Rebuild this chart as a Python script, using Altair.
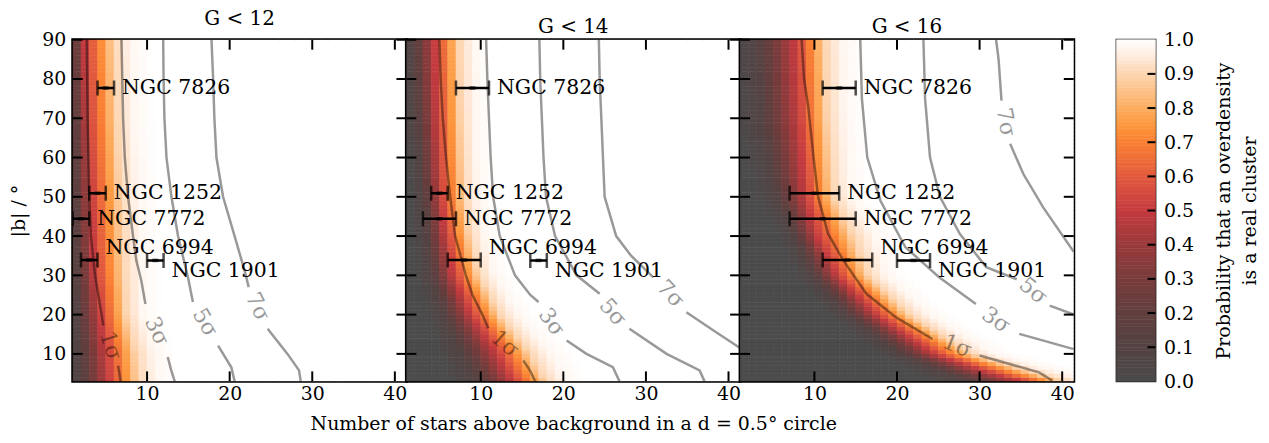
import altair as alt
import numpy as np
import pandas as pd

FONT = "DejaVu Serif"
PANELS = ["G < 12", "G < 14", "G < 16"]
X_TICKS = [10, 20, 30, 40]
Y_TICKS = [10, 20, 30, 40, 50, 60, 70, 80, 90]
CB_TICKS = [0.0, 0.1, 0.2, 0.3, 0.4, 0.5, 0.6, 0.7, 0.8, 0.9, 1.0]
CB_INNER = [0.1, 0.2, 0.3, 0.4, 0.5, 0.6, 0.7, 0.8, 0.9]
XTITLE = "Number of stars above background in a d = 0.5° circle"
YTITLE = "|b| / °"
CBTITLE = ["Probability that an overdensity", "is a real cluster"]
X_MIN, X_MAX = 1, 41.4
B_MIN, B_MAX = 3, 90

# probability field: x where P = 0.1, 0.5, 0.9 at each |b|
B_NODES = [3, 5, 10, 20, 30, 40, 50, 70, 90]
P10 = {
    "G < 12": [1.9, 1.9, 1.8, 1.5, 1.3, 1.2, 1.15, 1.0, 0.9],
    "G < 14": [9.6, 9.0, 7.8, 5.6, 4.0, 3.4, 3.0, 2.2, 1.8],
    "G < 16": [29.0, 26.0, 20.5, 14.0, 9.8, 7.6, 5.5, 3.6, 3.1],
}
P50 = {
    "G < 12": [5.3, 5.2, 5.0, 4.3, 3.7, 3.4, 3.2, 2.8, 2.5],
    "G < 14": [13.9, 13.3, 12.0, 8.8, 6.7, 5.8, 5.1, 4.7, 4.4],
    "G < 16": [35.5, 31.5, 24.5, 17.5, 12.8, 10.3, 8.9, 8.1, 7.7],
}
P90 = {
    "G < 12": [9.0, 8.9, 8.7, 7.5, 7.2, 7.0, 6.8, 6.3, 6.0],
    "G < 14": [18.0, 17.3, 16.0, 12.3, 9.8, 8.7, 8.0, 7.6, 7.4],
    "G < 16": [40.5, 37.0, 29.0, 21.5, 16.5, 14.7, 12.3, 11.6, 11.3],
}

# contour lines: (upper segment, lower segment, label (x, b, angle))
CONT_12 = {
    "1σ": ([(2.7, 90), (2.75, 80), (2.8, 70), (2.9, 60), (3.0, 50), (3.2, 40), (3.7, 30), (4.1, 25), (4.5, 20), (4.7, 17.2)],
           [(6.5, 7.0), (6.65, 5), (6.8, 3)], (5.6, 12.1, 72)),
    "3σ": ([(6.9, 90), (7.0, 80), (7.1, 70), (7.3, 60), (7.7, 50), (8.3, 40), (8.7, 33.8), (9.3, 28.7), (9.8, 22.7)],
           [(12.5, 9.2), (12.9, 6.0), (13.35, 3)], (11.2, 15.8, 65)),
    "5σ": ([(11.95, 90), (12.0, 80), (12.1, 70), (12.35, 60), (12.95, 50), (13.75, 40), (14.95, 29.5), (15.55, 23.2)],
           [(18.6, 12.1), (20.2, 6.6), (20.6, 3)], (17.05, 18.0, 60)),
    "7σ": ([(17.8, 90), (18.0, 80), (18.15, 70), (18.4, 60), (19.2, 50), (20.6, 40), (21.9, 30.5), (22.3, 27.0)],
           [(24.6, 16.4), (27.0, 10.0), (28.4, 5.8), (28.6, 3)], (23.4, 22.0, 64)),
}
CONT_14 = {
    "1σ": ([(5.0, 90), (5.15, 80), (5.4, 70), (5.8, 60), (6.3, 50), (6.9, 40), (8.2, 30), (9.0, 25), (10.2, 20), (10.9, 16.5)],
           [(15.15, 8.3), (15.9, 6.0), (16.6, 3)], (12.95, 12.6, 41)),
    "3σ": ([(10.65, 90), (10.8, 80), (11.0, 70), (11.2, 60), (11.5, 50), (12.3, 40), (14.15, 30), (16.0, 25), (17.0, 23.2)],
           [(20.4, 13.4), (22.8, 10.0), (26.0, 6.6), (26.8, 3)], (18.6, 18.1, 54)),
    "5σ": ([(17.1, 90), (17.2, 80), (17.4, 70), (17.6, 60), (17.9, 50), (19.0, 40), (21.6, 30), (24.4, 25.3)],
           [(28.0, 16.4), (32.5, 10.0), (36.5, 5.8), (37.1, 3)], (26.0, 20.6, 49)),
    "7σ": ([(24.3, 90), (24.4, 80), (24.6, 70), (24.8, 60), (25.0, 50), (26.4, 40), (28.2, 35), (30.9, 29.5)],
           [(34.9, 20.6), (38.5, 15.5), (41.4, 11.5)], (33.0, 25.3, 47)),
}
CONT_16 = {
    "1σ": ([(8.45, 90), (8.75, 80), (9.25, 73), (9.9, 60), (10.45, 50), (11.65, 40.6), (13.5, 33.8), (16.3, 25.3), (19.9, 19.3), (24.3, 13.8)],
           [(30.0, 9.6), (37.2, 5.3), (38.8, 3.2)], (27.3, 12.0, 22)),
    "3σ": ([(15.55, 90), (15.75, 75), (16.4, 60), (18.0, 49), (21.0, 37.2), (25.1, 29.5), (29.55, 22.7)],
           [(34.8, 15.1), (41.4, 11.2)], (32.0, 18.6, 34)),
    "5σ": ([(23.2, 90), (23.4, 75), (24.0, 60), (25.2, 50), (27.6, 40.6), (30.8, 32.1), (34.5, 29.0)],
           [(38.5, 22.3), (41.4, 20.0)], (36.5, 26.1, 40)),
    "7σ": ([(32.0, 90), (32.3, 85), (32.5, 79), (32.65, 74.5)],
           [(33.7, 63.5), (35.3, 55.8), (37.7, 47.3), (41.4, 36.0)], (33.2, 69.0, 79)),
}
CONTOURS = {"G < 12": CONT_12, "G < 14": CONT_14, "G < 16": CONT_16}

CLUSTERS = ["NGC 7826", "NGC 1252", "NGC 7772", "NGC 6994", "NGC 1901"]
CL_B = [77.7, 50.9, 44.4, 33.9, 33.8]
CL_TEXT_B = [77.7, 50.9, 44.4, 37.0, 31.0]
CL_LO = {"G < 12": [4, 3, 1, 2, 10], "G < 14": [7, 4, 3, 6, 16], "G < 16": [11, 7, 7, 11, 20]}
CL_HI = {"G < 12": [6, 5, 3, 4, 12], "G < 14": [11, 6, 7, 10, 18], "G < 16": [15, 13, 15, 17, 24]}

STOPS = [0.0, 0.1, 0.2, 0.3, 0.4, 0.5, 0.6, 0.7, 0.75, 0.8, 0.9, 0.95, 1.0]
COLS = ["#4b4b4b", "#544343", "#623e3e", "#783b3b", "#9a3a3b", "#c43a3f",
        "#e25a3e", "#fa8033", "#fd973d", "#fdad60", "#fdd5b0", "#ffebdc", "#ffffff"]

W, H = 335, 343
CBW = 39
XS = alt.Scale(domain=[X_MIN, X_MAX], nice=False, zero=False)
YS = alt.Scale(domain=[B_MIN, B_MAX], nice=False, zero=False)
CSCALE = alt.Scale(domain=STOPS, range=COLS, interpolate="rgb")


def heat_table(name):
    rows = []
    for b in range(B_MIN, B_MAX):
        bc = b + 0.5
        x10 = np.interp(bc, B_NODES, P10[name])
        x50 = np.interp(bc, B_NODES, P50[name])
        x90 = np.interp(bc, B_NODES, P90[name])
        xp = [x10 - 0.7 * (x50 - x10), x10, x50, x90,
              x90 + 0.6 * (x90 - x50), x90 + 1.3 * (x90 - x50)]
        for x in range(1, 42):
            p = float(np.interp(x + 0.5, xp, [0, 0.1, 0.5, 0.9, 0.98, 1.0]))
            rows.append((x, min(x + 1, X_MAX), b, b + 1, round(p, 3)))
    return pd.DataFrame(rows, columns=["x", "x2", "b", "b2", "p"])


def contour_tables(name):
    lines, labels = [], []
    for lev, (seg_a, seg_b, lab) in CONTOURS[name].items():
        for si, seg in enumerate((seg_a, seg_b)):
            for k, (x, b) in enumerate(seg):
                lines.append((f"{lev}-{si}", k, min(x, X_MAX), b))
        labels.append((lev, lab[0], lab[1], lab[2]))
    return (pd.DataFrame(lines, columns=["seg", "ord", "x", "b"]),
            pd.DataFrame(labels, columns=["t", "x", "b", "ang"]))


def make_panel(i, name):
    ax_x = alt.Axis(values=X_TICKS, tickSize=0, labelPadding=3, domain=False, grid=False,
                    labelFlush=False, title=XTITLE if i == 1 else None, titlePadding=11)
    if i == 0:
        ax_y = alt.Axis(values=Y_TICKS, tickSize=0, labelPadding=7, domain=False, grid=False,
                        title=YTITLE, titlePadding=13)
    else:
        ax_y = None

    def X(f):
        return alt.X(f, type="quantitative", scale=XS, axis=ax_x)

    def Y(f):
        return alt.Y(f, type="quantitative", scale=YS, axis=ax_y)

    heat = alt.Chart(heat_table(name)).mark_rect(strokeWidth=0.6, clip=True).encode(
        x=X("x"), x2="x2", y=Y("b"), y2="b2",
        color=alt.Color("p:Q", scale=CSCALE, legend=None),
        stroke=alt.Stroke("p:Q", scale=CSCALE, legend=None),
    )
    line_df, lab_df = contour_tables(name)
    lines = alt.Chart(line_df).mark_line(color="black", opacity=0.4, strokeWidth=2.5, clip=True).encode(
        x=X("x"), y=Y("b"), detail="seg:N", order="ord:Q")
    clabs = alt.Chart(lab_df).mark_text(font=FONT, fontSize=22, color="black", opacity=0.4).encode(
        x=X("x"), y=Y("b"), text="t:N", angle=alt.Angle("ang:Q", scale=None))

    cl_df = pd.DataFrame({"name": CLUSTERS, "b": CL_B, "bt": CL_TEXT_B,
                          "lo": CL_LO[name], "hi": CL_HI[name]})
    cl_df["mid"] = (cl_df["lo"] + cl_df["hi"]) / 2
    cap_df = pd.DataFrame({"x": CL_LO[name] + CL_HI[name], "b": CL_B + CL_B})
    bars = alt.Chart(cl_df).mark_rule(color="black", strokeWidth=2.5, clip=True).encode(
        x=X("lo"), x2="hi", y=Y("b"))
    mids = alt.Chart(cl_df).mark_tick(color="black", orient="horizontal", size=6, thickness=3.5).encode(
        x=X("mid"), y=Y("b"))
    caps = alt.Chart(cap_df).mark_tick(color="black", orient="vertical", size=15, thickness=2.5, clip=True).encode(
        x=X("x"), y=Y("b"))
    names = alt.Chart(cl_df).mark_text(align="left", baseline="middle", dx=8, font=FONT,
                                       fontSize=20.5, color="black").encode(
        x=X("hi"), y=Y("bt"), text="name:N")

    xt = alt.Chart(pd.DataFrame({"t": X_TICKS}))
    yt = alt.Chart(pd.DataFrame({"t": Y_TICKS}))
    tick = dict(color="black", strokeWidth=2)
    xt_top = xt.mark_rule(**tick).encode(x=X("t"), y=alt.value(0), y2=alt.value(10))
    xt_bot = xt.mark_rule(**tick).encode(x=X("t"), y=alt.value(H - 10), y2=alt.value(H))
    yt_l = yt.mark_rule(**tick).encode(y=Y("t"), x=alt.value(0), x2=alt.value(10))
    yt_r = yt.mark_rule(**tick).encode(y=Y("t"), x=alt.value(W - 10), x2=alt.value(W))

    return alt.layer(heat, lines, clabs, bars, mids, caps, names, xt_top, xt_bot, yt_l, yt_r).properties(
        width=W, height=H,
        title=alt.TitleParams(name, font=FONT, fontSize=20, fontWeight="normal", color="black",
                              offset=2),
    )


panels = [make_panel(i, n) for i, n in enumerate(PANELS)]
inner = alt.hconcat(*panels, spacing=0, bounds="flush")

CB_STEPS = [round(v * 0.01, 2) for v in range(100)]
cb_df = pd.DataFrame({"v": CB_STEPS})
cb_df["v2"] = cb_df["v"] + 0.01
cb_df["c"] = cb_df["v"] + 0.005
CBS = alt.Scale(domain=[0, 1], nice=False, zero=False)
cb_axis = alt.Axis(orient="right", values=CB_TICKS, format=".1f", tickSize=0, labelPadding=8,
                   domain=False, grid=False, title=CBTITLE, titleAngle=270, titlePadding=14,
                   titleLineHeight=26)
cb_rect = alt.Chart(cb_df).mark_rect(strokeWidth=0.6).encode(
    y=alt.Y("v:Q", scale=CBS, axis=cb_axis), y2="v2",
    x=alt.value(0), x2=alt.value(CBW),
    color=alt.Color("c:Q", scale=CSCALE, legend=None),
    stroke=alt.Stroke("c:Q", scale=CSCALE, legend=None),
)
cb_ticks = alt.Chart(pd.DataFrame({"t": CB_INNER})).mark_rule(color="black", strokeWidth=2).encode(
    y=alt.Y("t:Q", scale=CBS, axis=cb_axis), x=alt.value(CBW - 8), x2=alt.value(CBW))
# invisible one-letter title keeps the colorbar level with the panels without widening it
cbar = alt.layer(cb_rect, cb_ticks).properties(
    width=CBW, height=H,
    title=alt.TitleParams("G", font=FONT, fontSize=20, fontWeight="normal", color="white",
                          offset=2),
    view=alt.ViewBackground(stroke="#222222", strokeWidth=2),
)

chart = alt.hconcat(inner, cbar, spacing=38).properties(
    padding={"left": 0, "top": -2, "right": 0, "bottom": 0}
).configure_view(
    stroke="black", strokeWidth=3
).configure_axis(
    labelFont=FONT, titleFont=FONT, labelFontSize=19, titleFontSize=19,
    labelColor="black", titleColor="black", titleFontWeight="normal",
)

chart.save("out.html", embed_options={"renderer": "svg", "actions": False})
